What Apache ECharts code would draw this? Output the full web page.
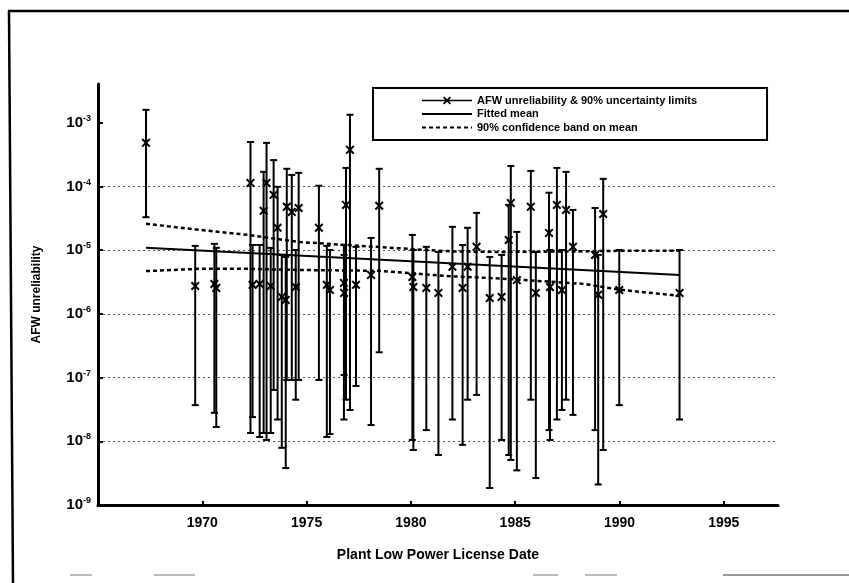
<!DOCTYPE html>
<html><head><meta charset="utf-8">
<script src="https://cdn.jsdelivr.net/npm/echarts@6/dist/echarts.min.js"></script>
<style>html,body{margin:0;padding:0;background:#fff}#c{width:849px;height:583px}</style>
</head><body><div id="c"></div>
<script>
// ---- data ----
const years = [1967.30,1969.66,1970.58,1970.67,1972.31,1972.41,1972.75,1972.94,1973.08,1973.28,1973.42,1973.61,1973.81,1974.00,1974.05,1974.29,1974.48,1974.62,1975.59,1975.97,1976.12,1976.79,1976.80,1976.89,1977.08,1977.37,1978.09,1978.48,1980.07,1980.12,1980.74,1981.32,1981.99,1982.48,1982.72,1983.15,1983.78,1984.35,1984.69,1984.79,1985.08,1985.75,1985.99,1986.62,1986.67,1987.00,1987.24,1987.44,1987.77,1988.83,1988.98,1989.22,1989.99,1992.88];
const values = [4.85e-4,2.75e-6,2.96e-6,2.56e-6,1.14e-4,2.86e-6,2.96e-6,4.15e-5,1.14e-4,2.75e-6,7.4e-5,2.25e-5,1.85e-6,1.66e-6,4.8e-5,4.0e-5,2.65e-6,4.6e-5,2.25e-5,2.86e-6,2.38e-6,3.07e-6,2.14e-6,5.15e-5,3.77e-4,2.86e-6,4.1e-6,5.0e-5,3.8e-6,2.65e-6,2.56e-6,2.14e-6,5.5e-6,2.56e-6,5.5e-6,1.13e-5,1.78e-6,1.85e-6,1.45e-5,5.5e-5,3.4e-6,4.8e-5,2.14e-6,1.87e-5,2.65e-6,5.15e-5,2.38e-6,4.3e-5,1.13e-5,8.45e-6,2.0e-6,3.7e-5,2.38e-6,2.14e-6];
const upperLimits = [1.6e-3,1.17e-5,1.26e-5,1.09e-5,5.0e-4,1.21e-5,1.21e-5,1.7e-4,4.85e-4,1.09e-5,2.6e-4,9.9e-5,8.45e-6,7.85e-6,1.9e-4,1.52e-4,1.01e-5,1.64e-4,1.03e-4,1.17e-5,1.01e-5,1.21e-5,8.45e-6,1.96e-4,1.34e-3,1.13e-5,1.56e-5,1.9e-4,1.74e-5,1.01e-5,1.13e-5,9.4e-6,2.33e-5,1.21e-5,2.25e-5,3.86e-5,7.85e-6,8.45e-6,5.15e-5,2.1e-4,1.94e-5,1.76e-4,9.4e-6,8.0e-5,1.01e-5,1.96e-4,1.01e-5,1.7e-4,4.3e-5,4.6e-5,8.45e-6,1.32e-4,1.01e-5,1.01e-5];
const lowerLimits = [3.3e-5,3.7e-8,2.8e-8,1.68e-8,1.35e-8,2.4e-8,1.17e-8,1.35e-8,1.05e-8,1.35e-8,6.4e-8,2.2e-8,7.9e-9,3.8e-9,9.2e-8,9.2e-8,4.5e-8,9.2e-8,9.2e-8,1.17e-8,1.3e-8,2.2e-8,1.1e-7,4.5e-8,3.1e-8,7.4e-8,1.8e-8,2.5e-7,1.05e-8,7.3e-9,1.5e-8,6.1e-9,2.2e-8,8.8e-9,4.5e-8,5.35e-8,1.85e-9,1.05e-8,6.1e-9,5.1e-9,3.5e-9,4.5e-8,2.65e-9,1.5e-8,1.05e-8,2.2e-8,3.1e-8,4.5e-8,2.6e-8,1.5e-8,2.1e-9,7.3e-9,3.7e-8,2.2e-8];
const meanYears = [1967.3, 1992.9];
const meanValues = [1.09e-5, 4.1e-6];
const bandYears = [1967.3,1969.8,1972.2,1974.6,1978.5,1981.9,1984.3,1988.3,1990.0,1992.9];
const bandUpper = [2.6e-5,2.1e-5,1.74e-5,1.35e-5,1.12e-5,9.6e-6,9.4e-6,9.6e-6,9.8e-6,9.8e-6];
const bandLower = [4.7e-6,5.1e-6,5.1e-6,4.9e-6,4.75e-6,3.9e-6,3.6e-6,2.96e-6,2.4e-6,1.92e-6];
const xTicks = [1970,1975,1980,1985,1990,1995];
const yTickExponents = [-9,-8,-7,-6,-5,-4,-3];
const names = ['AFW unreliability & 90% uncertainty limits','Fitted mean','90% confidence band on mean'];

// ---- chart ----
const L = Math.log10;
const FONT = 'Liberation Sans, Arial, sans-serif';
const chart = echarts.init(document.getElementById('c'), null, {renderer:'canvas'});
const barData = years.map((y,i)=>[y, L(lowerLimits[i]), L(upperLimits[i])]);
const pointData = years.map((y,i)=>[y, L(values[i])]);
const xMark = 'path://M0,1.6 L1.6,0 L5,3.4 L8.4,0 L10,1.6 L6.6,5 L10,8.4 L8.4,10 L5,6.6 L1.6,10 L0,8.4 L3.4,5 Z';

chart.setOption({
  animation:false,
  backgroundColor:'#fff',
  grid:{left:98, right:71, top:84, bottom:78},
  xAxis:{
    type:'value', min:1965, max:1997.6, interval:5,
    axisLine:{lineStyle:{color:'#000', width:3}},
    axisTick:{inside:true, length:4, lineStyle:{color:'#000', width:2}, customValues:xTicks},
    axisLabel:{customValues:xTicks, formatter:v=>String(v), color:'#000', fontWeight:'bold', fontSize:14, margin:11, fontFamily:FONT},
    splitLine:{show:false},
    name:'Plant Low Power License Date', nameLocation:'middle', nameGap:43,
    nameTextStyle:{color:'#000', fontWeight:'bold', fontSize:14, fontFamily:FONT}
  },
  yAxis:{
    type:'value', min:-9, max:-2.39, interval:1,
    axisLine:{lineStyle:{color:'#000', width:3}},
    axisTick:{inside:true, length:5, lineStyle:{color:'#000', width:2}, customValues:yTickExponents},
    axisLabel:{customValues:yTickExponents, margin:7,
      formatter:v=>'{b|10}{s|'+v+'}',
      rich:{
        b:{fontSize:15, fontWeight:'bold', color:'#000', fontFamily:FONT},
        s:{fontSize:9, fontWeight:'bold', color:'#000', fontFamily:FONT, padding:[0,0,9,0]}
      }},
    splitLine:{show:true, showMinLine:false, showMaxLine:false, lineStyle:{color:'#555', width:1, type:[2,3]}},
    name:'AFW unreliability', nameLocation:'middle', nameGap:55,
    nameTextStyle:{color:'#000', fontWeight:'bold', fontSize:12, fontFamily:FONT}
  },
  legend:{
    orient:'vertical', left:373, top:88, itemWidth:50, itemHeight:10, itemGap:2.5,
    padding:[7,70,7,48], borderColor:'#000', borderWidth:2, selectedMode:false,
    textStyle:{fontSize:11, fontWeight:'bold', color:'#000', fontFamily:FONT},
    data:[
      {name:names[0], lineStyle:{opacity:1, width:1.5, color:'#000'}},
      {name:names[1], itemStyle:{opacity:0}},
      {name:names[2], itemStyle:{opacity:0}}
    ]
  },
  graphic:[
    {type:'line', shape:{x1:8,y1:11,x2:849,y2:11}, style:{stroke:'#000', lineWidth:2.5}},
    {type:'line', shape:{x1:9,y1:11,x2:13,y2:583}, style:{stroke:'#000', lineWidth:2.5}},
    {type:'line', shape:{x1:70,y1:575,x2:92,y2:575}, style:{stroke:'#bbb', lineWidth:2}},
    {type:'line', shape:{x1:154,y1:575,x2:195,y2:575}, style:{stroke:'#bbb', lineWidth:2}},
    {type:'line', shape:{x1:533,y1:575,x2:558,y2:575}, style:{stroke:'#bbb', lineWidth:2}},
    {type:'line', shape:{x1:585,y1:575,x2:617,y2:575}, style:{stroke:'#bbb', lineWidth:2}},
    {type:'line', shape:{x1:723,y1:575,x2:849,y2:575}, style:{stroke:'#999', lineWidth:2}}
  ],
  series:[
    {
      type:'custom', name:'errorbars', data:barData, encode:{x:0, y:[1,2]}, z:2,
      renderItem:(params, api)=>{
        const x = api.value(0);
        const pLo = api.coord([x, api.value(1)]);
        const pHi = api.coord([x, api.value(2)]);
        const cw = 3.5;
        const st = {stroke:'#000', lineWidth:2};
        return {type:'group', children:[
          {type:'line', shape:{x1:pLo[0], y1:pLo[1], x2:pHi[0], y2:pHi[1]}, style:st},
          {type:'line', shape:{x1:pLo[0]-cw, y1:pLo[1], x2:pLo[0]+cw, y2:pLo[1]}, style:st},
          {type:'line', shape:{x1:pHi[0]-cw, y1:pHi[1], x2:pHi[0]+cw, y2:pHi[1]}, style:st}
        ]};
      }
    },
    {
      type:'line', name:names[0], data:pointData, symbol:xMark, symbolSize:9, z:4,
      itemStyle:{color:'#000'}, lineStyle:{width:0, opacity:0}
    },
    {
      type:'line', name:names[1], data:meanYears.map((y,i)=>[y, L(meanValues[i])]),
      symbol:'none', z:3, lineStyle:{color:'#000', width:2}, itemStyle:{color:'#000'}
    },
    {
      type:'line', name:names[2], data:bandYears.map((y,i)=>[y, L(bandUpper[i])]),
      symbol:'none', z:3, lineStyle:{color:'#000', width:2.5, type:[4,3]}, itemStyle:{color:'#000'}
    },
    {
      type:'line', name:names[2], data:bandYears.map((y,i)=>[y, L(bandLower[i])]),
      symbol:'none', z:3, lineStyle:{color:'#000', width:2.5, type:[4,3]}, itemStyle:{color:'#000'}
    }
  ]
});
</script></body></html>
